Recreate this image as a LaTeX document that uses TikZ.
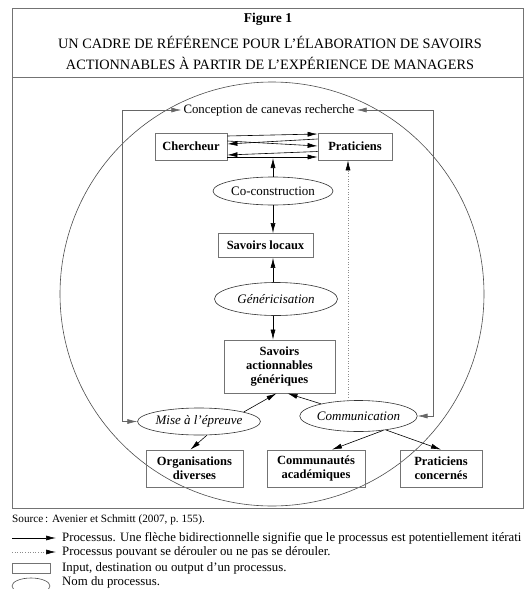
\documentclass[tikz,border=0pt]{standalone}
\usepackage{fontspec}
\setmainfont{Liberation Serif}
\usetikzlibrary{arrows.meta,shapes.geometric}
\begin{document}
\begin{tikzpicture}[x=1pt,y=-1pt,
  box/.style={draw=black!55,line width=0.8pt,rectangle,inner sep=0pt,align=center,font=\fontsize{12.5}{14}\selectfont\bfseries},
  proc/.style={draw=black!80,line width=0.6pt,ellipse,inner sep=0pt,font=\fontsize{13}{15}\selectfont},
  arr/.style={line width=0.6pt,-{Latex[length=10pt,width=5pt]}},
  arrb/.style={line width=0.6pt,{Latex[length=10pt,width=5pt]}-{Latex[length=10pt,width=5pt]}},
  dotarrtip/.style={line width=0.6pt,dotted,draw=black!45,arrows={-{Latex[length=10pt,width=5pt,color=black,fill=black]}}},
  frame/.style={draw=black!55,line width=0.9pt},
  legend/.style={anchor=west,inner sep=0pt,font=\fontsize{12.8}{14}\selectfont}
]
\useasboundingbox (0,0) rectangle (524,589);
\begin{scope}
\clip (0,0) rectangle (524,589);
% frame and title
\draw[frame] (12,8) rectangle (523,508);
\draw[frame] (12,77) -- (523,77);
\node[inner sep=0pt,font=\fontsize{13.5}{15}\selectfont\bfseries] (fig) at (268,19) {Figure 1};
\node[inner sep=0pt,font=\fontsize{14.3}{16}\selectfont] (t1) at (270,42) {UN CADRE DE RÉFÉRENCE POUR L’ÉLABORATION DE SAVOIRS};
\node[inner sep=0pt,font=\fontsize{14.3}{16}\selectfont] (t2) at (270,63) {ACTIONNABLES À PARTIR DE L’EXPÉRIENCE DE MANAGERS};

% big circle
\draw[draw=black!70,line width=0.6pt] (272,294) circle [radius=212];

% nodes
\node[inner sep=2pt,font=\fontsize{12.8}{14}\selectfont] (conc) at (269,110) {Conception de canevas recherche};
\node[box,minimum width=72pt,minimum height=27pt] (cher) at (191,146.5) {Chercheur};
\node[box,minimum width=74pt,minimum height=27pt] (prat) at (355,146.5) {Praticiens};
\node[proc,minimum width=120pt,minimum height=28pt] (coco) at (273,191) {Co-construction};
\node[box,minimum width=95pt,minimum height=24pt] (sloc) at (265.5,245.5) {Savoirs locaux};
\node[proc,minimum width=123pt,minimum height=33pt,font=\fontsize{13}{15}\selectfont\itshape] (gen) at (276,299) {Généricisation};
\node[box,minimum width=111pt,minimum height=53pt] (sag) at (279.5,366.5) {Savoirs\\actionnables\\génériques};
\node[proc,minimum width=112pt,minimum height=27pt,font=\fontsize{13}{15}\selectfont\itshape] (mise) at (199,421.5) {Mise à l’épreuve};
\node[proc,minimum width=113pt,minimum height=31pt,font=\fontsize{13}{15}\selectfont\itshape] (comm) at (358.5,416) {Communication};
\node[box,minimum width=97pt,minimum height=37pt] (org) at (194.5,468.5) {Organisations\\diverses};
\node[box,minimum width=98pt,minimum height=37pt] (cacad) at (316,468.5) {Communautés\\académiques};
\node[box,minimum width=82pt,minimum height=37pt] (pcon) at (441,468.5) {Praticiens\\concernés};

% connectors between Chercheur and Praticiens
\draw[arr] ([yshift=10.5pt]cher.east) -- ([yshift=12.5pt]prat.west);
\draw[arr] ([yshift=7.5pt]prat.west) -- ([yshift=2.5pt]cher.east);
\draw[arr] ([yshift=5.5pt]cher.east) -- ([yshift=0.5pt]prat.west);
\draw[arr] ([yshift=-5pt]prat.west) -- ([yshift=-8.5pt]cher.east);
\draw[arr] ([yshift=-10.5pt]cher.east) -- ([yshift=-10.5pt]prat.west);
\coordinate (cotip) at (273,158);
\draw[arr] (coco.north) -- (cotip);

% vertical chain
\draw[arr] (coco.south) -- (coco.south |- sloc.north);
\draw[arr] ([xshift=-3pt]gen.north) -- ([xshift=-3pt]gen.north |- sloc.south);
\draw[arr] ([xshift=-3pt]gen.south) -- ([xshift=-3pt]gen.south |- sag.north);

% loops
\coordinate (lt) at (122,110);
\coordinate (rt) at (433,110);
\draw[arrb,draw=black!60] (conc.west) -- (lt) |- (mise.west);
\draw[arrb,draw=black!60] (conc.east) -- (rt) |- (comm.east);

% dotted
\draw[dotarrtip] ([xshift=-10.5pt]comm.north) -- ([xshift=-7pt]prat.south);

% lower arrows
\draw[arr] (mise.12) -- ([xshift=-3pt]sag.south);
\draw[arr] (comm.162) -- ([xshift=8pt]sag.south);
\draw[arr] (mise.-60) -- ([xshift=-4pt]org.north);
\draw[arr] (comm.-30) -- ([xshift=16pt]cacad.north);
\draw[arr] (comm.-27) -- (pcon.north);

% source and legend
\node[legend,font=\fontsize{11.2}{13}\selectfont] (src) at (12,520) {Source\,: Avenier et Schmitt (2007, p.~155).};
\coordinate (l1a) at (12,538); \coordinate (l1b) at (56,538);
\draw[arr] (l1a) -- (l1b);
\node[legend] (lt1) at (62,538) {Processus. Une flèche bidirectionnelle signifie que le processus est potentiellement itérati};
\coordinate (l2a) at (12,552); \coordinate (l2b) at (56,552);
\draw[dotarrtip] (l2a) -- (l2b);
\node[legend] (lt2) at (62,552) {Processus pouvant se dérouler ou ne pas se dérouler.};
\node[draw=black!55,line width=0.8pt,minimum width=38pt,minimum height=10pt,inner sep=0pt] (lrect) at (31,568) {};
\node[legend] (lt3) at (62,568) {Input, destination ou output d’un processus.};
\node[draw=black!70,line width=0.6pt,ellipse,minimum width=38pt,minimum height=16pt,inner sep=0pt] (lell) at (31,586) {};
\node[legend] (lt4) at (62,582) {Nom du processus.};
\end{scope}
\end{tikzpicture}
\end{document}
